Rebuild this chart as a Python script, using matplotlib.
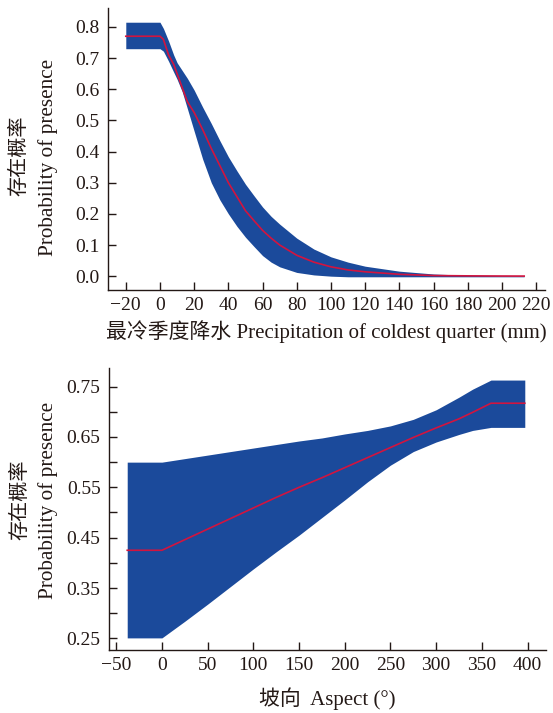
import numpy as np
import matplotlib
matplotlib.use("Agg")
import matplotlib.pyplot as plt

plt.rcParams['font.family'] = ['Liberation Serif', 'Noto Sans CJK SC']
plt.rcParams['axes.unicode_minus'] = True

# precipitation of coldest quarter response (mean and band)
precip_x = [-20, 0, 2, 5, 8, 10, 13, 16, 20, 25, 30, 35, 40, 45, 50, 55, 60, 65, 70,
            80, 90, 100, 110, 120, 140, 160, 180, 200, 213]
precip_mean = [0.77, 0.77, 0.76, 0.71, 0.68, 0.65, 0.605, 0.56, 0.525, 0.47, 0.41, 0.355, 0.30,
               0.255, 0.21, 0.178, 0.147, 0.122, 0.10, 0.067, 0.045, 0.03, 0.02, 0.014,
               0.006, 0.002, 0.001, 0.0005, 0.0003]
precip_upper = [0.815, 0.815, 0.795, 0.755, 0.71, 0.685, 0.66, 0.635, 0.597, 0.542, 0.49, 0.435,
                0.383, 0.338, 0.295, 0.258, 0.222, 0.192, 0.167, 0.122, 0.087, 0.062, 0.045,
                0.032, 0.016, 0.007, 0.003, 0.0015, 0.001]
precip_lower = [0.73, 0.73, 0.722, 0.69, 0.655, 0.632, 0.592, 0.538, 0.465, 0.375, 0.3, 0.245,
                0.20, 0.16, 0.125, 0.095, 0.066, 0.045, 0.03, 0.012, 0.004, 0.0, -0.002,
                -0.002, -0.002, -0.002, -0.002, -0.002, -0.002]

# aspect response (mean and band)
aspect_x = [-38, 0, 25, 50, 75, 100, 125, 150, 175, 200, 225, 250, 275, 300, 325, 340, 360, 397]
aspect_mean = [0.425, 0.425, 0.446, 0.467, 0.488, 0.509, 0.53, 0.55, 0.569, 0.589, 0.609,
               0.629, 0.649, 0.668, 0.686, 0.699, 0.717, 0.717]
aspect_upper = [0.60, 0.60, 0.607, 0.614, 0.621, 0.628, 0.635, 0.642, 0.648, 0.656, 0.663,
                0.672, 0.685, 0.704, 0.729, 0.745, 0.763, 0.763]
aspect_lower = [0.251, 0.251, 0.284, 0.318, 0.353, 0.388, 0.422, 0.455, 0.49, 0.525, 0.561,
                0.594, 0.621, 0.64, 0.655, 0.663, 0.669, 0.669]

band_col = '#1b4a9b'
line_col = '#d2143f'
ink = '#231815'
fs = 14

fig = plt.figure(figsize=(5.53, 7.13), dpi=100)
ax1 = fig.add_axes([0.195, 0.593, 0.790, 0.3955])
ax2 = fig.add_axes([0.197, 0.0884, 0.790, 0.3955])

for ax in (ax1, ax2):
    for s in ('top', 'right'):
        ax.spines[s].set_visible(False)
    for s in ('left', 'bottom'):
        ax.spines[s].set_color(ink)
        ax.spines[s].set_linewidth(1.0)
    ax.tick_params(direction='in', length=6, width=1.0, color=ink, labelsize=fs,
                   labelcolor=ink)
    ax.tick_params(axis='y', pad=6)
    ax.tick_params(axis='x', pad=5)

ax1.fill_between(precip_x, precip_lower, precip_upper, color=band_col, lw=0)
ax1.plot(precip_x, precip_mean, color=line_col, lw=1.2)
ax1.set_xlim(-30.5, 225)
ax1.set_ylim(-0.045, 0.86)
ax1.set_xticks(np.arange(-20, 221, 20))
ax1.set_yticks(np.arange(0, 0.81, 0.1))
ax1.set_yticklabels(['%.1f' % v for v in np.arange(0, 0.81, 0.1)])
ax1.set_xlabel('最冷季度降水 Precipitation of coldest quarter (mm)', fontsize=fs + 1,
               color=ink, labelpad=4)
ax1.text(-0.201, 0.475, '存在概率', rotation=90, ha='center', va='center',
         fontsize=14.5, color=ink, transform=ax1.transAxes)
ax1.text(-0.137, 0.472, 'Probability of presence', rotation=90, ha='center', va='center',
         fontsize=fs + 1.3, color=ink, transform=ax1.transAxes)

ax2.fill_between(aspect_x, aspect_lower, aspect_upper, color=band_col, lw=0)
ax2.plot(aspect_x, aspect_mean, color=line_col, lw=1.2)
ax2.set_xlim(-58, 420)
ax2.set_ylim(0.227, 0.787)
ax2.set_xticks(np.arange(-50, 401, 50))
yt = np.arange(0.25, 0.751, 0.05)
ax2.set_yticks(yt)
ax2.set_yticklabels(['%.2f' % v if i % 2 == 0 else '' for i, v in enumerate(yt)])
ax2.set_xlabel('坡向  Aspect (°)', fontsize=fs + 1, color=ink, labelpad=10)
ax2.text(-0.203, 0.532, '存在概率', rotation=90, ha='center', va='center',
         fontsize=14.5, color=ink, transform=ax2.transAxes)
ax2.text(-0.139, 0.532, 'Probability of presence', rotation=90, ha='center', va='center',
         fontsize=fs + 1.3, color=ink, transform=ax2.transAxes)

fig.savefig('out.png', dpi=100)
